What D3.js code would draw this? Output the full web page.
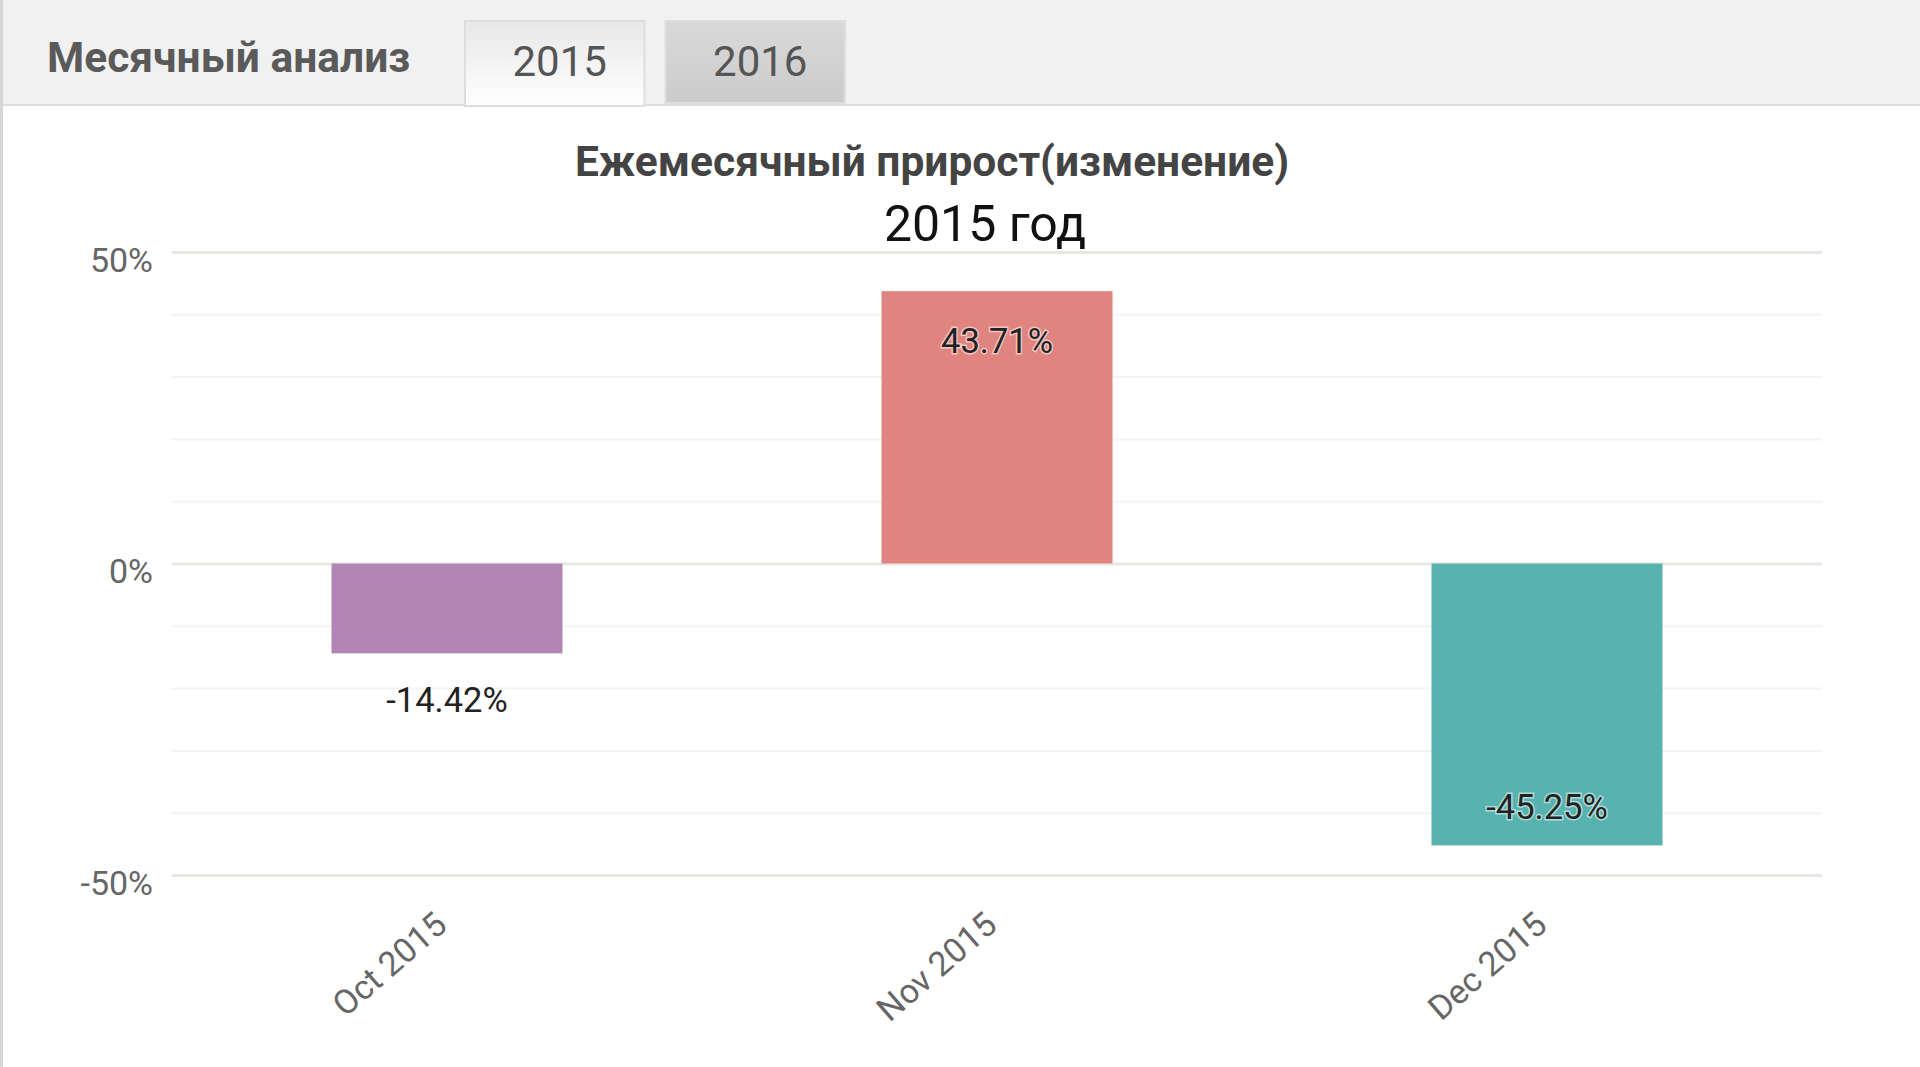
<!DOCTYPE html>
<html>
<head>
<meta charset="utf-8">
<script src="https://cdn.jsdelivr.net/npm/d3@7"></script>
<style>
  html, body { margin: 0; padding: 0; background: #fff; }
  svg { display: block; font-family: Roboto, "Noto Sans", sans-serif; }
</style>
</head>
<body>
<div id="chart"></div>
<script>
// data
const months = ["Oct 2015", "Nov 2015", "Dec 2015"];
const growth = [-14.42, 43.71, -45.25];
const majorTicks = [-50, 0, 50];
const minorTicks = [-40, -30, -20, -10, 10, 20, 30, 40];
const tabLabels = ["2015", "2016"];
const headerText = "Месячный анализ";
const chartTitle = "Ежемесячный прирост(изменение)";
const chartSubtitle = "2015 год";

function renderChart() {
    const W = 1920, H = 1067;
    const headerH = 105;
    const margin = {top: 252, right: 98, bottom: 192, left: 172};
    const width = W - margin.left - margin.right,
        height = H - margin.top - margin.bottom;

    const svg = d3.select("#chart").append("svg")
        .attr("width", W)
        .attr("height", H);

    const defs = svg.append("defs");
    const g1 = defs.append("linearGradient").attr("id", "tabActive")
        .attr("x1", 0).attr("y1", 0).attr("x2", 0).attr("y2", 1);
    g1.append("stop").attr("offset", "0%").attr("stop-color", "#e8e8e8");
    g1.append("stop").attr("offset", "100%").attr("stop-color", "#ffffff");
    const g2 = defs.append("linearGradient").attr("id", "tabIdle")
        .attr("x1", 0).attr("y1", 0).attr("x2", 0).attr("y2", 1);
    g2.append("stop").attr("offset", "0%").attr("stop-color", "#d9d9d9");
    g2.append("stop").attr("offset", "100%").attr("stop-color", "#cbcbcb");

    // header strip with tabs
    svg.append("rect")
        .attr("x", 0).attr("y", 0)
        .attr("width", W).attr("height", headerH)
        .attr("fill", "#f1f1f1");
    svg.append("line")
        .attr("x1", 0).attr("x2", W)
        .attr("y1", headerH).attr("y2", headerH)
        .attr("stroke", "#dcdcdc").attr("stroke-width", 2);
    svg.append("line")
        .attr("x1", 1.5).attr("x2", 1.5)
        .attr("y1", 0).attr("y2", H)
        .attr("stroke", "#d6d6d6").attr("stroke-width", 3);

    svg.append("text")
        .attr("x", 47).attr("y", 72)
        .attr("font-size", 42.5)
        .attr("font-weight", "bold")
        .attr("fill", "#5a5a5a")
        .text(headerText);

    const tabX = d3.scaleBand()
        .domain(tabLabels)
        .range([465, 845])
        .paddingInner(0.105);

    const tab = svg.selectAll(".tab")
        .data(tabLabels)
        .enter()
        .append("g")
        .attr("class", "tab");

    tab.append("rect")
        .attr("x", d => tabX(d))
        .attr("y", 21)
        .attr("width", tabX.bandwidth())
        .attr("height", (d, i) => i === 0 ? headerH - 20 : headerH - 23)
        .attr("fill", (d, i) => i === 0 ? "url(#tabActive)" : "url(#tabIdle)")
        .attr("stroke", "#dedede")
        .attr("stroke-width", 2);

    tab.append("text")
        .attr("x", d => tabX(d) + tabX.bandwidth() / 2 + 5)
        .attr("y", 76)
        .attr("text-anchor", "middle")
        .attr("font-size", 42)
        .attr("fill", "#555")
        .text(d => d);

    // titles
    svg.append("text")
        .attr("x", 932).attr("y", 176)
        .attr("text-anchor", "middle")
        .attr("font-size", 42.5)
        .attr("font-weight", "bold")
        .attr("fill", "#444")
        .text(chartTitle);

    svg.append("text")
        .attr("x", 985).attr("y", 241)
        .attr("text-anchor", "middle")
        .attr("font-size", 50)
        .attr("fill", "#111")
        .text(chartSubtitle);

    const chart = svg.append("g")
        .attr("transform", "translate(" + margin.left + "," + margin.top + ")");

    const x = d3.scaleBand()
        .domain(months)
        .range([0, width])
        .paddingInner(0.58)
        .paddingOuter(0.29);

    const y = d3.scaleLinear()
        .domain([-50, 50])
        .range([height, 0]);

    // minor grid
    chart.append("g")
        .attr("class", "grid-minor")
        .call(d3.axisLeft(y).tickValues(minorTicks).tickSize(-width).tickFormat(""))
        .call(g => g.select(".domain").remove())
        .call(g => g.selectAll("line").attr("stroke", "#f3f3f1").attr("stroke-width", 2));

    // major grid + labels
    chart.append("g")
        .attr("class", "y_axis")
        .call(d3.axisLeft(y).tickValues(majorTicks).tickSize(-width).tickPadding(19)
            .tickFormat(d => d + "%"))
        .call(g => g.select(".domain").remove())
        .call(g => g.selectAll("line").attr("stroke", "#e8e8e3").attr("stroke-width", 3))
        .call(g => g.selectAll("text")
            .attr("font-size", 34)
            .attr("font-family", "Roboto, sans-serif")
            .attr("fill", "#666")
            .attr("dy", "0.56em"));

    const color = d3.scaleOrdinal()
        .domain(months)
        .range(["#b385b2", "#e0847f", "#58b2b0"]);

    const rows = months.map((m, i) => ({month: m, value: growth[i]}));

    chart.append("g")
        .selectAll("rect")
        .data(rows)
        .enter()
        .append("rect")
        .attr("x", d => x(d.month))
        .attr("y", d => y(Math.max(0, d.value)))
        .attr("width", x.bandwidth())
        .attr("height", d => Math.abs(y(d.value) - y(0)))
        .attr("fill", d => color(d.month));

    // value labels: inside the bar end if it fits, else just past it
    chart.append("g")
        .selectAll("text")
        .data(rows)
        .enter()
        .append("text")
        .attr("x", d => x(d.month) + x.bandwidth() / 2)
        .attr("y", function (d) {
            const inside = Math.abs(y(d.value) - y(0)) > 120;
            if (d.value >= 0) return y(d.value) + 50;
            return inside ? y(d.value) - 38 : y(d.value) + 47;
        })
        .attr("dominant-baseline", "central")
        .attr("text-anchor", "middle")
        .attr("font-size", 34.5)
        .attr("fill", "#222")
        .attr("stroke", "rgba(255,255,255,0.55)")
        .attr("stroke-width", 3)
        .attr("paint-order", "stroke")
        .text(d => d.value.toFixed(2) + "%");

    // rotated month labels
    chart.append("g")
        .selectAll("text")
        .data(months)
        .enter()
        .append("text")
        .attr("transform", d => "translate(" + (x(d) + x.bandwidth() / 2 - 6) + "," + (y(-50) + 44) + ") rotate(-41)")
        .attr("text-anchor", "end")
        .attr("dy", "0.35em")
        .attr("font-size", 34)
        .attr("fill", "#666")
        .text(d => d);
}

renderChart();
</script>
</body>
</html>
